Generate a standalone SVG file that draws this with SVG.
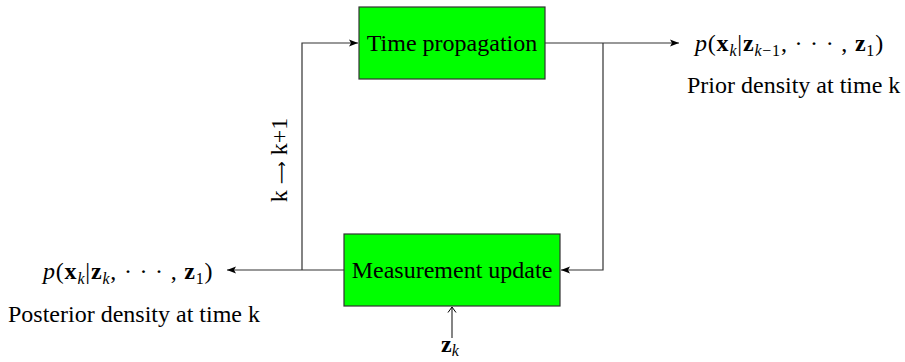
<svg xmlns="http://www.w3.org/2000/svg" width="905" height="362" viewBox="0 0 905 362">
<style>
.box{fill:#00ff00;stroke:#333;stroke-width:1.2}
.t{font-family:"Liberation Serif","Times New Roman",serif;font-size:24px;fill:#000}
.lbl{font-family:"Liberation Serif","Times New Roman",serif;font-size:24px;fill:#000}
.m{letter-spacing:0.8px}
.it{font-style:italic}
.b{font-weight:bold}
.ln{fill:none;stroke:#333;stroke-width:1.2}
</style>
<defs>
<marker id="ah" markerWidth="10" markerHeight="8" refX="9" refY="4" orient="auto" markerUnits="userSpaceOnUse">
<path d="M0,0.5 L9,4 L0,7.5 L2,4 Z" fill="#000"/>
</marker>
<marker id="oh" markerWidth="8" markerHeight="10" refX="6.5" refY="5" orient="auto" markerUnits="userSpaceOnUse">
<path d="M1,1 L6.5,5 L1,9" fill="none" stroke="#000" stroke-width="1"/>
</marker>
</defs>
<g id="connectors">
<path class="ln" d="M302,270 L302,43 L358,43" marker-end="url(#ah)"/>
<path class="ln" d="M545,43 L679,43" marker-end="url(#ah)"/>
<path class="ln" d="M603,43 L603,270 L561,270" marker-end="url(#ah)"/>
<path class="ln" d="M344,270 L227,270" marker-end="url(#ah)"/>
<path class="ln" d="M452,338 L452,307" marker-end="url(#oh)"/>
</g>
<g id="time-propagation">
<rect class="box" x="359" y="7" width="186" height="72"/>
<text class="t" x="452" y="51" text-anchor="middle">Time propagation</text>
</g>
<g id="measurement-update">
<rect class="box" x="344" y="234" width="216" height="72"/>
<text class="t" x="452" y="278" text-anchor="middle">Measurement update</text>
</g>
<g id="prior">
<text class="lbl m" x="695" y="51"><tspan class="it">p</tspan>(<tspan class="b">x</tspan><tspan class="it" font-size="16" dy="5">k</tspan><tspan dy="-5">|</tspan><tspan class="b">z</tspan><tspan font-size="16" dy="5"><tspan class="it">k</tspan>−1</tspan><tspan dy="-5">,  · · ·  , </tspan><tspan class="b">z</tspan><tspan font-size="16" dy="5">1</tspan><tspan dy="-5">)</tspan></text>
<text class="lbl" x="687" y="93">Prior density at time k</text>
</g>
<g id="posterior">
<text class="lbl m" x="43" y="279"><tspan class="it">p</tspan>(<tspan class="b">x</tspan><tspan class="it" font-size="16" dy="5">k</tspan><tspan dy="-5">|</tspan><tspan class="b">z</tspan><tspan class="it" font-size="16" dy="5">k</tspan><tspan dy="-5">,  · · ·  , </tspan><tspan class="b">z</tspan><tspan font-size="16" dy="5">1</tspan><tspan dy="-5">)</tspan></text>
<text class="lbl" x="8" y="322">Posterior density at time k</text>
</g>
<g id="zk">
<text class="lbl" x="441" y="352"><tspan class="b">z</tspan><tspan class="it" font-size="16" dy="4">k</tspan></text>
</g>
<g id="step-label">
<text class="lbl" transform="translate(287,160) rotate(-90)" text-anchor="middle">k <tspan font-family="DejaVu Sans" font-size="16">⟶</tspan> k+1</text>
</g>
</svg>
